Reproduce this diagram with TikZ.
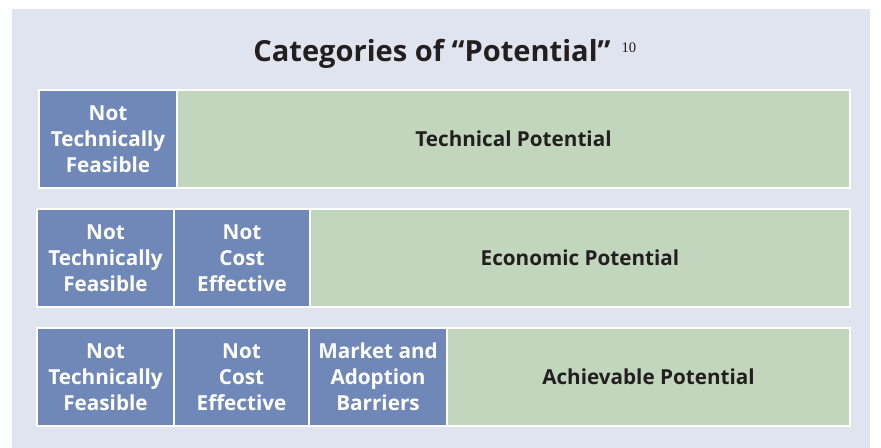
\documentclass[tikz,border=0pt]{standalone}
\usepackage{fontspec}
\setmainfont{Open Sans}
\newfontfamily\notefont{Liberation Serif}
\definecolor{panel}{HTML}{E0E4EF}
\definecolor{barblue}{HTML}{7088B8}
\definecolor{bargreen}{HTML}{C1D6BC}
\definecolor{ink}{HTML}{231F20}
\tikzset{
	box/.style={draw=white,line width=1.5pt,inner sep=0,outer sep=0,minimum height=73.5pt,align=center,font=\bfseries\fontsize{15.5}{19.5}\selectfont},
	blk/.style={box,fill=barblue,text=white},
	grn/.style={box,fill=bargreen,text=ink}
}

\begin{document}
\begin{tikzpicture}[x=0.75pt,y=-0.75pt]
	\useasboundingbox (0,0) rectangle (881,448);
	\fill[panel] (12,9) rectangle (870,448);
	\node[anchor=base,text=ink,font=\bfseries\fontsize{21.8}{26}\selectfont] (title) at (432,62) {Categories of “Potential”};
	\node[anchor=base west,text=ink,inner sep=0,xshift=4.5pt,yshift=6.75pt,font=\notefont\fontsize{11}{13}\selectfont] (note) at (title.base east) {10};
	\node[blk,minimum width=103.5pt] (tnf1) at (108,139) {Not\\Technically\\Feasible};
	\node[grn,minimum width=504.75pt] (tech) at (513.5,139) {Technical Potential};
	\node[blk,minimum width=102.75pt] (tnf2) at (105.5,258) {Not\\Technically\\Feasible};
	\node[blk,minimum width=102pt] (nce2) at (242,258) {Not\\Cost\\Effective};
	\node[grn,minimum width=405pt] (econ) at (580,258) {Economic Potential};
	\node[blk,minimum width=102.75pt] (tnf3) at (105.5,377) {Not\\Technically\\Feasible};
	\node[blk,minimum width=101.25pt] (nce3) at (241.5,377) {Not\\Cost\\Effective};
	\node[blk,minimum width=103.5pt] (mab3) at (378,377) {Market and\\Adoption\\Barriers};
	\node[grn,minimum width=302.25pt] (achv) at (648.5,377) {Achievable Potential};
\end{tikzpicture}
\end{document}
